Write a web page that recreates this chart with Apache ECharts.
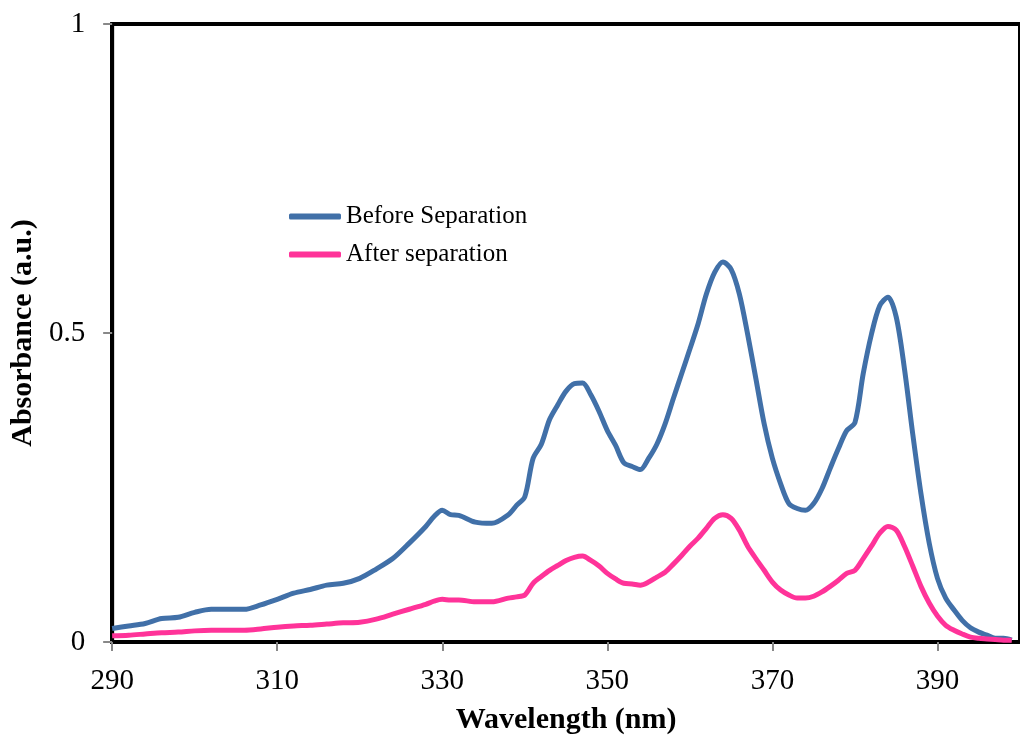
<!DOCTYPE html>
<html>
<head>
<meta charset="utf-8">
<script src="https://cdn.jsdelivr.net/npm/echarts@6/dist/echarts.min.js"></script>
<style>html,body{margin:0;padding:0;background:#fff}#c{width:1020px;height:740px}</style>
</head>
<body>
<div id="c"></div>
<script>
var wavelengths = [290,292,294,296,298,300,302,304,306,308,310,312,314,316,318,320,322,324,326,328,329,330,331,332,334,336,338,339,340,341,342,343,344,345,346,347,348,349,350,351,352,353,354,355,356,357,358,359,360,361,362,363,364,365,366,367,368,369,370,371,372,373,374,375,376,377,378,379,380,381,382,383,384,385,386,387,388,389,390,391,392,393,394,395,396,397,398,399];
var beforeSep = [0.022,0.026,0.030,0.038,0.040,0.048,0.053,0.053,0.053,0.060,0.069,0.079,0.085,0.092,0.095,0.103,0.118,0.135,0.160,0.187,0.203,0.213,0.206,0.205,0.194,0.192,0.206,0.221,0.235,0.297,0.320,0.360,0.384,0.406,0.418,0.419,0.400,0.373,0.342,0.318,0.290,0.284,0.279,0.297,0.320,0.353,0.394,0.434,0.474,0.515,0.563,0.598,0.615,0.603,0.563,0.498,0.426,0.353,0.297,0.256,0.224,0.216,0.213,0.224,0.248,0.281,0.313,0.342,0.355,0.434,0.498,0.544,0.558,0.526,0.442,0.337,0.240,0.160,0.103,0.071,0.052,0.035,0.023,0.016,0.011,0.006,0.006,0.003];
var afterSep = [0.010,0.011,0.013,0.015,0.016,0.018,0.019,0.019,0.019,0.021,0.024,0.026,0.027,0.029,0.031,0.032,0.037,0.045,0.053,0.061,0.066,0.069,0.068,0.068,0.065,0.065,0.071,0.073,0.076,0.095,0.106,0.116,0.124,0.132,0.137,0.139,0.132,0.123,0.111,0.102,0.095,0.094,0.092,0.097,0.105,0.113,0.126,0.140,0.155,0.168,0.184,0.200,0.206,0.200,0.181,0.155,0.135,0.116,0.097,0.084,0.076,0.071,0.071,0.074,0.081,0.090,0.100,0.111,0.116,0.135,0.155,0.176,0.187,0.181,0.155,0.123,0.090,0.063,0.042,0.027,0.019,0.013,0.008,0.006,0.005,0.004,0.003,0.003];
var seriesNames = ['Before Separation','After separation'];
var xTitle = 'Wavelength (nm)';
var yTitle = 'Absorbance (a.u.)';

function pairs(ys){ return wavelengths.map(function(x,i){ return [x, ys[i]]; }); }
var FONT = '"Liberation Serif","Times New Roman",serif';

var chart = echarts.init(document.getElementById('c'), null, {renderer:'canvas'});
chart.setOption({
  animation:false,
  backgroundColor:'#fff',
  grid:{left:111,top:24,bottom:96,right:-6,show:true,borderColor:'#000',borderWidth:4,backgroundColor:'transparent'},
  legend:{
    orient:'vertical', left:284, top:199, itemWidth:52, itemHeight:6, itemGap:13,
    icon:'roundRect',
    textStyle:{fontFamily:FONT,fontSize:25,color:'#000'},
    data:seriesNames
  },
  xAxis:{
    type:'value', min:290, max:400, interval:20,
    name:xTitle, nameLocation:'middle', nameGap:63,
    nameTextStyle:{fontFamily:FONT,fontSize:30,fontWeight:'bold',color:'#000'},
    axisLine:{show:true,onZero:false,lineStyle:{color:'#000',width:4}},
    axisTick:{show:true,inside:false,length:9,lineStyle:{color:'#888',width:2}},
    axisLabel:{fontFamily:FONT,fontSize:29,color:'#000',margin:25,showMaxLabel:false},
    splitLine:{show:false}
  },
  yAxis:{
    type:'value', min:0, max:1, interval:0.5,
    name:yTitle, nameLocation:'middle', nameGap:65, nameRotate:90,
    nameTextStyle:{fontFamily:FONT,fontSize:30,fontWeight:'bold',color:'#000'},
    axisLine:{show:true,lineStyle:{color:'#000',width:4}},
    axisTick:{show:true,inside:false,length:9,lineStyle:{color:'#888',width:2}},
    axisLabel:{fontFamily:FONT,fontSize:29,color:'#000',margin:27,formatter:function(v){return String(v);}},
    splitLine:{show:false}
  },
  series:[
    {name:seriesNames[0],type:'line',data:pairs(beforeSep),showSymbol:false,symbol:'none',smooth:0.3,
     lineStyle:{color:'#4170A8',width:5},itemStyle:{color:'#4170A8'},z:3},
    {name:seriesNames[1],type:'line',data:pairs(afterSep),showSymbol:false,symbol:'none',smooth:0.3,
     lineStyle:{color:'#FF3399',width:5},itemStyle:{color:'#FF3399'},z:4}
  ]
});
</script>
</body>
</html>
